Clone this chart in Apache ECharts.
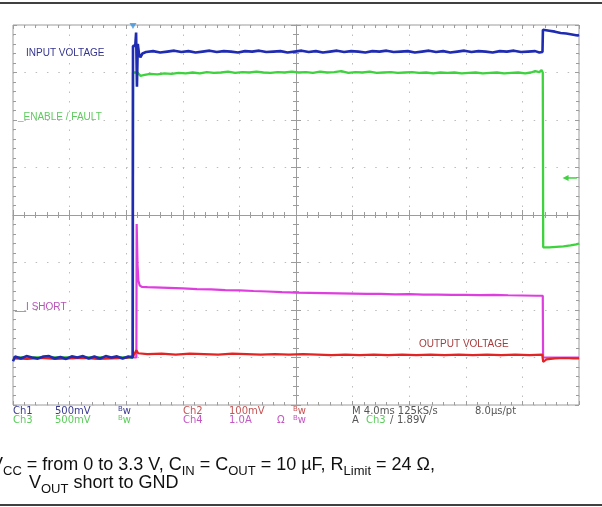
<!DOCTYPE html>
<html>
<head>
<meta charset="utf-8">
<script src="https://cdn.jsdelivr.net/npm/echarts@6/dist/echarts.min.js"></script>
<style>
  html, body { margin: 0; padding: 0; background: #fff; }
  #chart { width: 602px; height: 507px; }
</style>
</head>
<body>
<div id="chart"></div>
<script>
// ---- Acquisition data: time in ms, values in V or A ----

// Ch1 – input voltage (V)
const ch1Input = [
  [0.00,-0.04],[0.15,0.01],[0.55,-0.01],[0.95,0.015],[1.35,0.00],[1.75,-0.012],[2.15,0.01],[2.55,0.015],
  [2.95,-0.01],[3.35,0.005],[3.75,-0.015],[4.15,0.012],[4.55,0.00],[4.95,0.015],[5.35,-0.01],[5.75,0.01],
  [6.15,-0.012],[6.55,0.015],[6.95,0.00],[7.35,0.012],[7.75,-0.01],[8.15,0.01],[8.46,0.00],
  [8.48,3.28],[8.64,3.28],[8.70,3.42],[8.76,2.85],[8.82,3.30],[8.90,3.20],[9.00,3.16],[9.15,3.20],[9.40,3.215],
  [9.9,3.225],[10.4,3.21],[10.9,3.22],[11.4,3.23],[11.9,3.215],[12.4,3.225],[12.9,3.21],[13.4,3.22],
  [13.9,3.23],[14.4,3.215],[14.9,3.225],[15.4,3.22],[15.9,3.21],[16.4,3.225],[16.9,3.22],[17.4,3.23],
  [17.9,3.215],[18.4,3.22],[18.9,3.225],[19.4,3.21],[19.9,3.22],[20.4,3.23],[20.9,3.215],[21.4,3.225],
  [21.9,3.21],[22.4,3.22],[22.9,3.23],[23.4,3.215],[23.9,3.225],[24.4,3.22],[24.9,3.21],[25.4,3.225],
  [25.9,3.22],[26.4,3.23],[26.9,3.215],[27.4,3.22],[27.9,3.225],[28.4,3.21],[28.9,3.22],[29.4,3.23],
  [29.9,3.215],[30.4,3.225],[30.9,3.21],[31.4,3.22],[31.9,3.23],[32.4,3.215],[32.9,3.225],[33.4,3.22],
  [33.9,3.21],[34.4,3.225],[34.9,3.22],[35.4,3.23],[35.9,3.215],[36.4,3.22],[36.9,3.225],[37.2,3.21],
  [37.42,3.215],[37.45,3.45],[37.9,3.44],[38.3,3.43],[38.7,3.415],[39.1,3.41],[39.5,3.40],[39.9,3.39],[40.0,3.395]
];

// Ch3 – enable / fault (V)
const ch3Enable = [
  [0,0.0],[8.46,0.0],
  [8.48,3.0],[8.8,3.0],[9.0,2.965],[9.3,2.975],[9.7,2.985],[10.2,2.98],[10.7,2.99],[11.2,2.985],
  [11.7,2.995],[12.2,2.99],[12.7,3.0],[13.2,2.99],[13.7,3.005],[14.2,2.995],[14.7,3.0],[15.2,3.01],
  [15.7,2.995],[16.2,3.005],[16.7,3.0],[17.2,3.01],[17.7,3.0],[18.2,2.995],[18.7,3.005],[19.2,3.0],
  [19.7,3.01],[20.2,3.0],[20.7,3.005],[21.2,2.995],[21.7,3.01],[22.2,3.0],[22.7,3.005],[23.2,3.015],
  [23.7,2.995],[24.2,3.005],[24.7,3.0],[25.2,3.01],[25.7,2.995],[26.2,3.0],[26.7,3.005],[27.2,2.995],
  [27.7,3.0],[28.2,3.005],[28.7,2.995],[29.2,3.0],[29.7,2.99],[30.2,3.0],[30.7,2.995],[31.2,3.0],
  [31.7,2.99],[32.2,2.995],[32.7,3.0],[33.2,2.99],[33.7,2.995],[34.2,3.0],[34.7,2.99],[35.2,2.995],
  [35.7,3.0],[36.2,2.99],[36.6,3.0],[36.9,3.015],[37.2,3.005],[37.35,3.025],[37.44,3.0],
  [37.47,1.16],[37.9,1.16],[38.4,1.165],[38.9,1.17],[39.4,1.18],[39.8,1.19],[40,1.2]
];

// Ch4 – short-circuit current (A)
const ch4Short = [
  [0,0],[8.72,0],[8.74,2.81],[8.80,1.95],[8.86,1.62],[8.95,1.52],[9.1,1.485],[9.5,1.48],[10,1.475],
  [11,1.465],[12,1.455],[13,1.44],[14,1.435],[15,1.42],[16,1.415],[17,1.40],[18,1.39],[19,1.375],
  [20,1.365],[21,1.36],[22,1.355],[23,1.35],[24,1.345],[25,1.34],[26,1.34],[27,1.33],[28,1.335],
  [29,1.325],[30,1.325],[31,1.32],[32,1.32],[33,1.315],[34,1.32],[35,1.31],[36,1.305],[37,1.30],
  [37.44,1.30],[37.46,0],[40,0]
];

// Ch2 – output voltage (V)
const ch2Output = [
  [0,-0.002],[1,-0.003],[2,-0.001],[3,-0.003],[4,-0.002],[5,-0.001],[6,-0.003],[7,-0.002],[8,-0.001],
  [8.5,0.003],[8.72,0.015],[8.85,0.009],[9.5,0.007],[10.5,0.008],[11.5,0.006],[12.5,0.008],[13.5,0.007],
  [14.5,0.006],[15.5,0.008],[16.5,0.007],[17.5,0.006],[18.5,0.007],[19.5,0.006],[20.5,0.007],[21.5,0.006],
  [22.5,0.005],[23.5,0.006],[24.5,0.005],[25.5,0.006],[26.5,0.005],[27.5,0.006],[28.5,0.005],[29.5,0.006],
  [30.5,0.005],[31.5,0.006],[32.5,0.005],[33.5,0.006],[34.5,0.005],[35.5,0.006],[36.5,0.005],[37.4,0.006],
  [37.47,-0.009],[37.7,-0.004],[38.3,-0.002],[39,-0.001],[39.6,-0.002],[40,-0.002]
];

// Trigger: Ch3 rising edge, time (ms) and level (V)
const triggerTime = 8.48;
const triggerLevel = 1.89;

// Time base: 10 divisions of 4 ms; vertical: 8 divisions
const timeRange = [0, 40];
const timePerDiv = 4;
const divRange = [-4, 4];

// ---- Channel settings ----
const channels = {
  ch1: { perDiv: 0.5, ground: -3, color: '#1f2bb0', width: 2.6 },
  ch2: { perDiv: 0.1, ground: -3, color: '#e22424', width: 2.2 },
  ch3: { perDiv: 0.5, ground: -3, color: '#3ed23e', width: 2.3 },
  ch4: { perDiv: 1.0, ground: -3, color: '#de3ede', width: 2.2 }
};
const toDiv = (pts, ch) => pts.map(([t, v]) => [t, v / ch.perDiv + ch.ground]);

// ---- Layout ----
const GRID = { left: 13, top: 25, width: 566, height: 380 };
const FRAME = '#9c9c9c';
const DOTS = '#bcbcbc';
const hMinor = GRID.width / 50;   // px between minor ticks along time
const vMinor = GRID.height / 40;  // px between minor ticks vertically

function timeAxis(position, offset, inside, showLine, split) {
  return {
    type: 'value', min: timeRange[0], max: timeRange[1], interval: timePerDiv,
    position, offset,
    axisLine: { show: !!showLine, onZero: false, lineStyle: { color: FRAME, width: 1 } },
    axisTick: { show: true, inside, length: showLine === null ? 4 : 5, lineStyle: { color: FRAME } },
    minorTick: { show: true, splitNumber: 5, length: 3, lineStyle: { color: FRAME } },
    axisLabel: { show: false },
    splitLine: split ? { show: true, lineStyle: { color: DOTS, width: 1, type: [1.5, vMinor - 1.5] } } : { show: false },
    minorSplitLine: { show: false }
  };
}
function divAxis(position, offset, inside, showLine, split) {
  return {
    type: 'value', min: divRange[0], max: divRange[1], interval: 1,
    position, offset,
    axisLine: { show: !!showLine, onZero: false, lineStyle: { color: FRAME, width: 1 } },
    axisTick: { show: true, inside, length: showLine === null ? 4 : 5, lineStyle: { color: FRAME } },
    minorTick: { show: true, splitNumber: 5, length: 3, lineStyle: { color: FRAME } },
    axisLabel: { show: false },
    splitLine: split ? { show: true, lineStyle: { color: DOTS, width: 1, type: [1.5, hMinor - 1.5] } } : { show: false },
    minorSplitLine: { show: false }
  };
}

// ---- Text helpers ----
const measure = document.createElement('canvas').getContext('2d');
const SANS = '"Liberation Sans", Arial, sans-serif';
const SCOPE = '"DejaVu Sans", sans-serif';

// lay out runs of text (with optional sub/superscript) left to right
function runs(x0, y, parts) {
  let x = x0;
  const out = [];
  parts.forEach(p => {
    const font = `${p.size}px ${p.family}`;
    measure.font = font;
    out.push({
      type: 'text', x, y: y + (p.dy || 0), silent: true,
      style: { text: p.text, font, fill: p.color, align: 'left', verticalAlign: 'middle' }
    });
    x += measure.measureText(p.text).width + (p.gap || 0);
  });
  return out;
}
const main = (text, color) => ({ text, size: 18, family: SANS, color });
const sub = (text, color) => ({ text, size: 13, family: SANS, color, dy: 6 });

function label(x, y, text, color, size) {
  return {
    type: 'text', x, y, silent: true,
    style: { text, font: `${size || 10}px ${SANS}`, fill: color, align: 'left', verticalAlign: 'middle' }
  };
}
function scopeText(x, y, text, color) {
  return {
    type: 'text', x, y, silent: true,
    style: { text, font: `10px ${SCOPE}`, fill: color, align: 'left', verticalAlign: 'middle' }
  };
}
function bw(x, y, color) {
  return runs(x, y, [
    { text: 'B', size: 7, family: SCOPE, color, dy: -2 },
    { text: 'w', size: 10, family: SCOPE, color }
  ]);
}

const C1 = '#3a3a92', C2 = '#c45454', C3 = '#5ccc5c', C4 = '#c456c4', GRAY = '#555555';
const R1 = 411, R2 = 420;

const capColor = '#111111';
const graphics = [
  { type: 'line', silent: true, shape: { x1: 0, y1: 3, x2: 602, y2: 3 }, style: { stroke: '#000', lineWidth: 1.5 } },
  { type: 'line', silent: true, shape: { x1: 0, y1: 505, x2: 602, y2: 505 }, style: { stroke: '#000', lineWidth: 1.5 } },

  label(26, 53, 'INPUT VOLTAGE', '#35358f'),
  label(18, 117, '_ENABLE / FAULT', '#5ec95e'),
  label(15, 307, '__I SHORT', '#b852b8'),
  label(419, 344, 'OUTPUT VOLTAGE', '#a83c3c'),

  scopeText(13, R1, 'Ch1', C1), scopeText(55, R1, '500mV', C1), ...bw(118, R1, C1),
  scopeText(183, R1, 'Ch2', C2), scopeText(229, R1, '100mV', C2), ...bw(293, R1, C2),
  scopeText(352, R1, 'M 4.0ms 125kS/s', GRAY), scopeText(475, R1, '8.0µs/pt', GRAY),

  scopeText(13, R2, 'Ch3', C3), scopeText(55, R2, '500mV', C3), ...bw(118, R2, C3),
  scopeText(183, R2, 'Ch4', C4), scopeText(229, R2, '1.0A', C4), scopeText(277, R2, 'Ω', C4), ...bw(293, R2, C4),
  scopeText(352, R2, 'A', GRAY), scopeText(366, R2, 'Ch3', C3), scopeText(390, R2, '/', GRAY),
  scopeText(397, R2, '1.89V', GRAY),

  ...runs(-9, 465, [
    main('V', capColor), sub('CC', capColor), main(' = from 0 to 3.3 V, C', capColor), sub('IN', capColor),
    main(' = C', capColor), sub('OUT', capColor), main(' = 10 µF, R', capColor), sub('Limit', capColor),
    main(' = 24 Ω,', capColor)
  ]),
  ...runs(29, 483, [
    main('V', capColor), sub('OUT', capColor), main(' short to GND', capColor)
  ])
];

const trace = (name, pts, ch, z) => ({
  name, type: 'line', data: toDiv(pts, ch), xAxisIndex: 0, yAxisIndex: 0,
  showSymbol: false, symbol: 'none', sampling: null, z,
  lineStyle: { color: ch.color, width: ch.width },
  emphasis: { disabled: true }, animation: false
});

const chart = echarts.init(document.getElementById('chart'), null, { renderer: 'canvas' });
chart.setOption({
  backgroundColor: '#ffffff',
  animation: false,
  grid: { ...GRID, show: true, borderColor: FRAME, borderWidth: 1, backgroundColor: 'transparent' },
  xAxis: [
    timeAxis('bottom', 0, true, null, true),
    timeAxis('top', 0, true, null, false),
    timeAxis('bottom', -GRID.height / 2, true, true, false),
    timeAxis('bottom', -GRID.height / 2, false, false, false)
  ],
  yAxis: [
    divAxis('left', 0, true, null, true),
    divAxis('right', 0, true, null, false),
    divAxis('left', -GRID.width / 2, true, true, false),
    divAxis('left', -GRID.width / 2, false, false, false)
  ],
  series: [
    trace('Ch4', ch4Short, channels.ch4, 2),
    trace('Ch3', ch3Enable, channels.ch3, 3),
    trace('Ch2', ch2Output, channels.ch2, 4),
    trace('Ch1', ch1Input, channels.ch1, 5),
    {
      name: 'trigger', type: 'scatter', z: 6, clip: false, silent: true,
      data: [[triggerTime, divRange[1]]],
      symbol: 'triangle', symbolRotate: 180, symbolSize: [7, 6], symbolOffset: [0, 1],
      itemStyle: { color: '#3d93dc' }
    },
    {
      name: 'trigger level', type: 'line', z: 6, clip: false, silent: true,
      showSymbol: true,
      data: [
        { value: [39.05, triggerLevel / channels.ch3.perDiv + channels.ch3.ground], symbol: 'triangle', symbolRotate: 90, symbolSize: 6 },
        { value: [39.85, triggerLevel / channels.ch3.perDiv + channels.ch3.ground], symbol: 'none' }
      ],
      lineStyle: { color: channels.ch3.color, width: 1.5 },
      itemStyle: { color: channels.ch3.color }
    }
  ],
  graphic: { elements: graphics }
});
</script>
</body>
</html>
